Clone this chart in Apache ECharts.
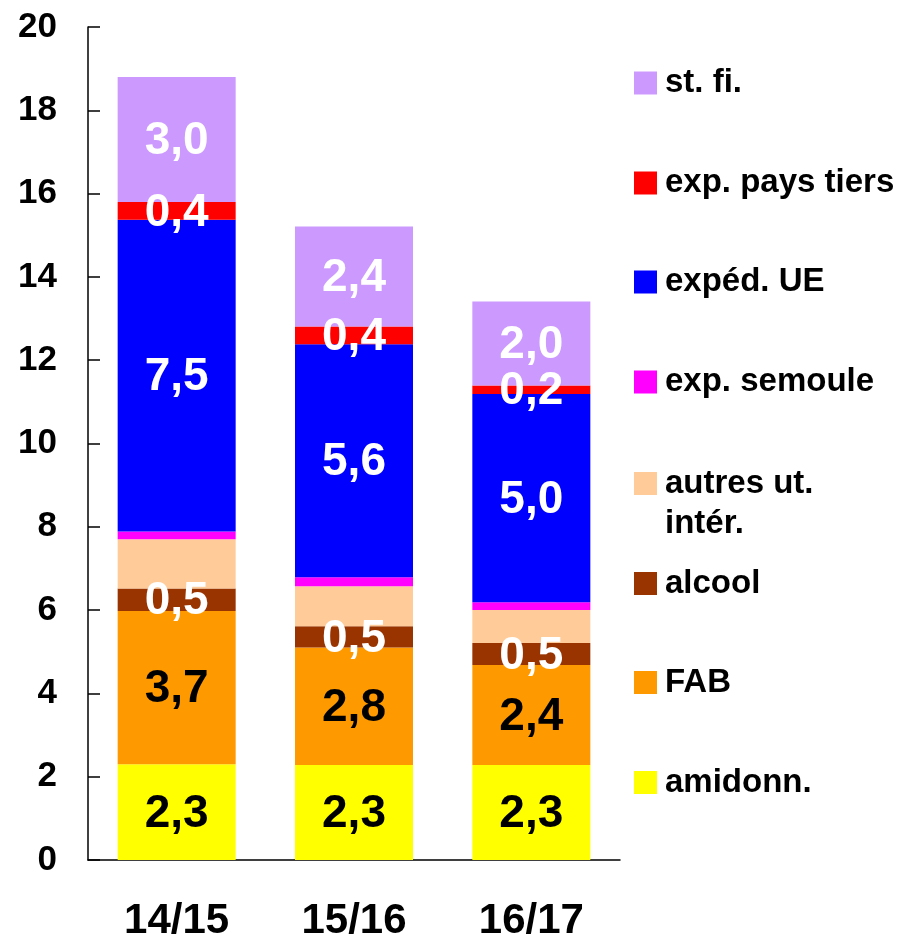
<!DOCTYPE html>
<html>
<head>
<meta charset="utf-8">
<script src="https://cdn.jsdelivr.net/npm/echarts@6/dist/echarts.min.js"></script>
<style>
html,body{margin:0;padding:0;background:#fff;}
#chart{width:900px;height:939px;}
</style>
</head>
<body>
<div id="chart"></div>
<script>
var categories = ['14/15', '15/16', '16/17'];
var seriesNames = ['amidonn.', 'FAB', 'alcool', 'autres ut. intér.', 'exp. semoule', 'expéd. UE', 'exp. pays tiers', 'st. fi.'];
var amidonn = [2.3, 2.28, 2.28];
var fab = [3.68, 2.82, 2.40];
var alcool = [0.54, 0.51, 0.53];
var autres = [1.18, 0.96, 0.79];
var semoule = [0.19, 0.22, 0.19];
var expedUE = [7.48, 5.59, 5.0];
var paysTiers = [0.43, 0.43, 0.2];
var stFi = [3.0, 2.40, 2.02];
var yTicks = [0, 2, 4, 6, 8, 10, 12, 14, 16, 18, 20];

var values = [amidonn, fab, alcool, autres, semoule, expedUE, paysTiers, stFi];
var colors = ['#FFFF00', '#FF9900', '#993300', '#FFCC99', '#FF00FF', '#0000FF', '#FF0000', '#CC99FF'];
var labelColors = ['#000', '#000', '#fff', null, null, '#fff', '#fff', '#fff'];
var legendCenters = [782.5, 682.5, 583.5, 483.5, 382, 282, 183, 83];
var FONT = '"Liberation Sans", Arial, sans-serif';

var series = seriesNames.map(function (name, i) {
  return {
    name: name,
    type: 'bar',
    stack: 'total',
    barWidth: 118,
    data: values[i],
    itemStyle: { color: colors[i] },
    label: {
      show: labelColors[i] !== null,
      position: 'inside',
      offset: [0, 2],
      color: labelColors[i] || '#fff',
      fontFamily: FONT,
      fontWeight: 'bold',
      fontSize: 46,
      formatter: function (p) { return p.value.toFixed(1).replace('.', ','); }
    }
  };
});

var legends = seriesNames.map(function (name, i) {
  return {
    data: [name],
    orient: 'vertical',
    left: 634,
    top: legendCenters[i] - 17,
    padding: 0,
    itemWidth: 23,
    itemHeight: 23,
    icon: 'rect',
    selectedMode: false,
    formatter: function (n) { return n === 'autres ut. intér.' ? 'autres ut.' : n; },
    textStyle: { fontFamily: FONT, fontWeight: 'bold', fontSize: 33, lineHeight: 34, color: '#000', padding: [0, 0, 0, 3] }
  };
});

var chart = echarts.init(document.getElementById('chart'));
chart.setOption({
  animation: false,
  backgroundColor: '#fff',
  grid: { left: 88, top: 27, width: 532, height: 833, containLabel: false, outerBoundsMode: 'none' },
  legend: legends,
  graphic: [{
    type: 'text',
    left: 665,
    top: 507,
    style: { text: 'intér.', fontFamily: FONT, fontWeight: 'bold', fontSize: 33, fill: '#000' }
  }],
  xAxis: {
    type: 'category',
    data: categories,
    axisLine: { lineStyle: { color: '#000', width: 1.5 } },
    axisTick: { show: false },
    axisLabel: { color: '#000', fontFamily: FONT, fontWeight: 'bold', fontSize: 42, margin: 40 }
  },
  yAxis: {
    type: 'value',
    min: yTicks[0],
    max: yTicks[yTicks.length - 1],
    interval: 2,
    splitLine: { show: false },
    axisLine: { show: true, lineStyle: { color: '#000', width: 1.5 } },
    axisTick: { show: true, inside: true, length: 12, lineStyle: { color: '#000', width: 1.5 } },
    axisLabel: { color: '#000', fontFamily: FONT, fontWeight: 'bold', fontSize: 35, margin: 31 }
  },
  series: series
});
</script>
</body>
</html>
